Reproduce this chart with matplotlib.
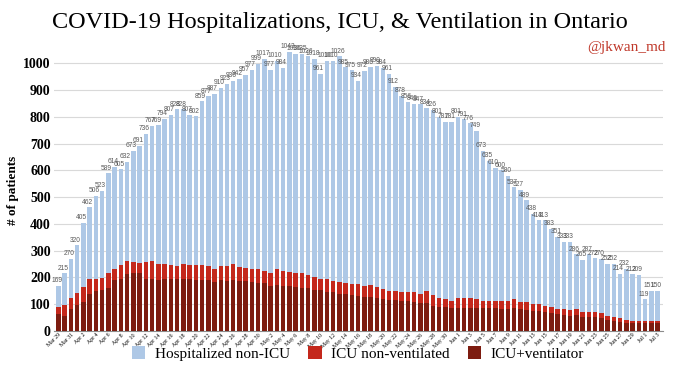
import matplotlib
matplotlib.use("Agg")
import matplotlib.pyplot as plt
import numpy as np
import pandas as pd

dates = pd.date_range("2020-03-29", periods=97, freq="D")
date_labels = [f"{d.strftime('%b')} {d.day}" for d in dates]

total = [169, 215, 270, 320, 405, 462, 506, 523, 589, 614,
         605, 632, 673, 691, 736, 767, 769, 794, 807, 828,
         828, 807, 802, 859, 877, 887, 910, 923, 936, 942,
         957, 977, 999, 1017, 977, 1010, 984, 1043, 1036, 1035,
         1026, 1018, 961, 1010, 1010, 1026, 985, 975, 934, 972,
         986, 990, 984, 961, 912, 878, 856, 849, 847, 834,
         826, 801, 781, 781, 801, 791, 776, 749, 673, 635,
         610, 600, 580, 537, 527, 489, 438, 413, 413, 383,
         351, 333, 333, 286, 265, 287, 272, 270, 252, 252,
         214, 232, 212, 209, 119, 151, 150]

icu = [91, 97, 124, 141, 165, 193, 193, 199, 215, 230,
       246, 261, 257, 255, 259, 261, 252, 250, 246, 243,
       250, 246, 246, 248, 243, 230, 244, 244, 250, 240,
       236, 233, 230, 224, 218, 230, 224, 220, 218, 218,
       211, 200, 194, 193, 188, 184, 180, 176, 176, 168,
       172, 165, 157, 150, 150, 144, 144, 144, 138, 148,
       134, 124, 118, 113, 124, 124, 124, 118, 113, 113,
       113, 113, 113, 118, 109, 107, 101, 101, 95, 91,
       81, 81, 78, 82, 72, 72, 70, 66, 57, 51,
       47, 41, 39, 39, 37, 37, 39]

vent = [63, 56, 82, 97, 109, 137, 149, 153, 159, 190,
        193, 213, 215, 215, 193, 193, 190, 196, 196, 196,
        193, 193, 190, 190, 190, 184, 190, 187, 190, 187,
        187, 184, 181, 178, 170, 172, 168, 168, 165, 162,
        159, 153, 153, 147, 145, 140, 137, 134, 131, 128,
        128, 122, 118, 116, 116, 113, 113, 109, 103, 106,
        93, 91, 88, 85, 85, 85, 85, 85, 85, 85,
        85, 83, 82, 85, 83, 78, 76, 76, 70, 66,
        63, 60, 57, 60, 53, 53, 51, 47, 41, 39,
        35, 29, 29, 29, 29, 29, 29]

series_names = ["Hospitalized non-ICU", "ICU non-ventilated", "ICU+ventilator"]
colors = ["#aec8e6", "#c4281c", "#7d1c10"]

total_a = np.array(total)
icu_a = np.array(icu)
vent_a = np.array(vent)
non_icu = total_a - icu_a
icu_nonvent = icu_a - vent_a

SERIF = ["Liberation Serif", "DejaVu Serif"]
plt.rcParams["font.family"] = SERIF

fig = plt.figure(figsize=(6.79, 3.82), dpi=100)
ax = fig.add_axes([0.0788, 0.1335, 0.897, 0.7355])

x = np.arange(len(total))
w = 0.72
ax.bar(x, vent_a, w, color=colors[2], label=series_names[2], zorder=3)
ax.bar(x, icu_nonvent, w, bottom=vent_a, color=colors[1], label=series_names[1], zorder=3)
ax.bar(x, non_icu, w, bottom=icu_a, color=colors[0], label=series_names[0], zorder=3)

for xi, t in zip(x, total):
    ax.text(xi - 0.3, t + 6, str(t), fontsize=4.8, color="#595959",
            ha="center", va="bottom", family=["Liberation Sans", "DejaVu Sans"], zorder=4)

ax.set_xlim(-0.8, len(total) - 0.2)
ax.set_ylim(0, 1050)
ax.set_yticks(range(0, 1001, 100))
ax.set_yticklabels([str(v) for v in range(0, 1001, 100)], fontsize=10, fontweight="bold")
ax.yaxis.grid(True, color="#d9d9d9", linewidth=0.8, zorder=0)
ax.set_axisbelow(True)
for s in ["top", "right", "left"]:
    ax.spines[s].set_visible(False)
ax.spines["bottom"].set_color("#8c8c8c")
ax.tick_params(axis="y", length=0, pad=2)
ax.tick_params(axis="x", length=0, pad=1)

ax.set_xticks(x[::2])
ax.set_xticklabels(date_labels[::2], rotation=45, ha="right", rotation_mode="anchor", fontsize=4.2)

ax.set_ylabel("# of patients", fontsize=9.5, fontweight="bold", labelpad=3)

fig.text(0.5, 0.942, "COVID-19 Hospitalizations, ICU, & Ventilation in Ontario",
         ha="center", va="center", fontsize=17.5)
fig.text(0.98, 0.875, "@jkwan_md", ha="right", va="center", fontsize=11, color="#c0392b")

handles, labels = ax.get_legend_handles_labels()
order = [2, 1, 0]
fig.legend([handles[i] for i in order], [labels[i] for i in order],
           loc="center", bbox_to_anchor=(0.527, 0.075), ncol=3, frameon=False,
           fontsize=11, handlelength=0.9, handleheight=0.9, columnspacing=1.2,
           handletextpad=0.6)

fig.savefig("out.png", dpi=100)
